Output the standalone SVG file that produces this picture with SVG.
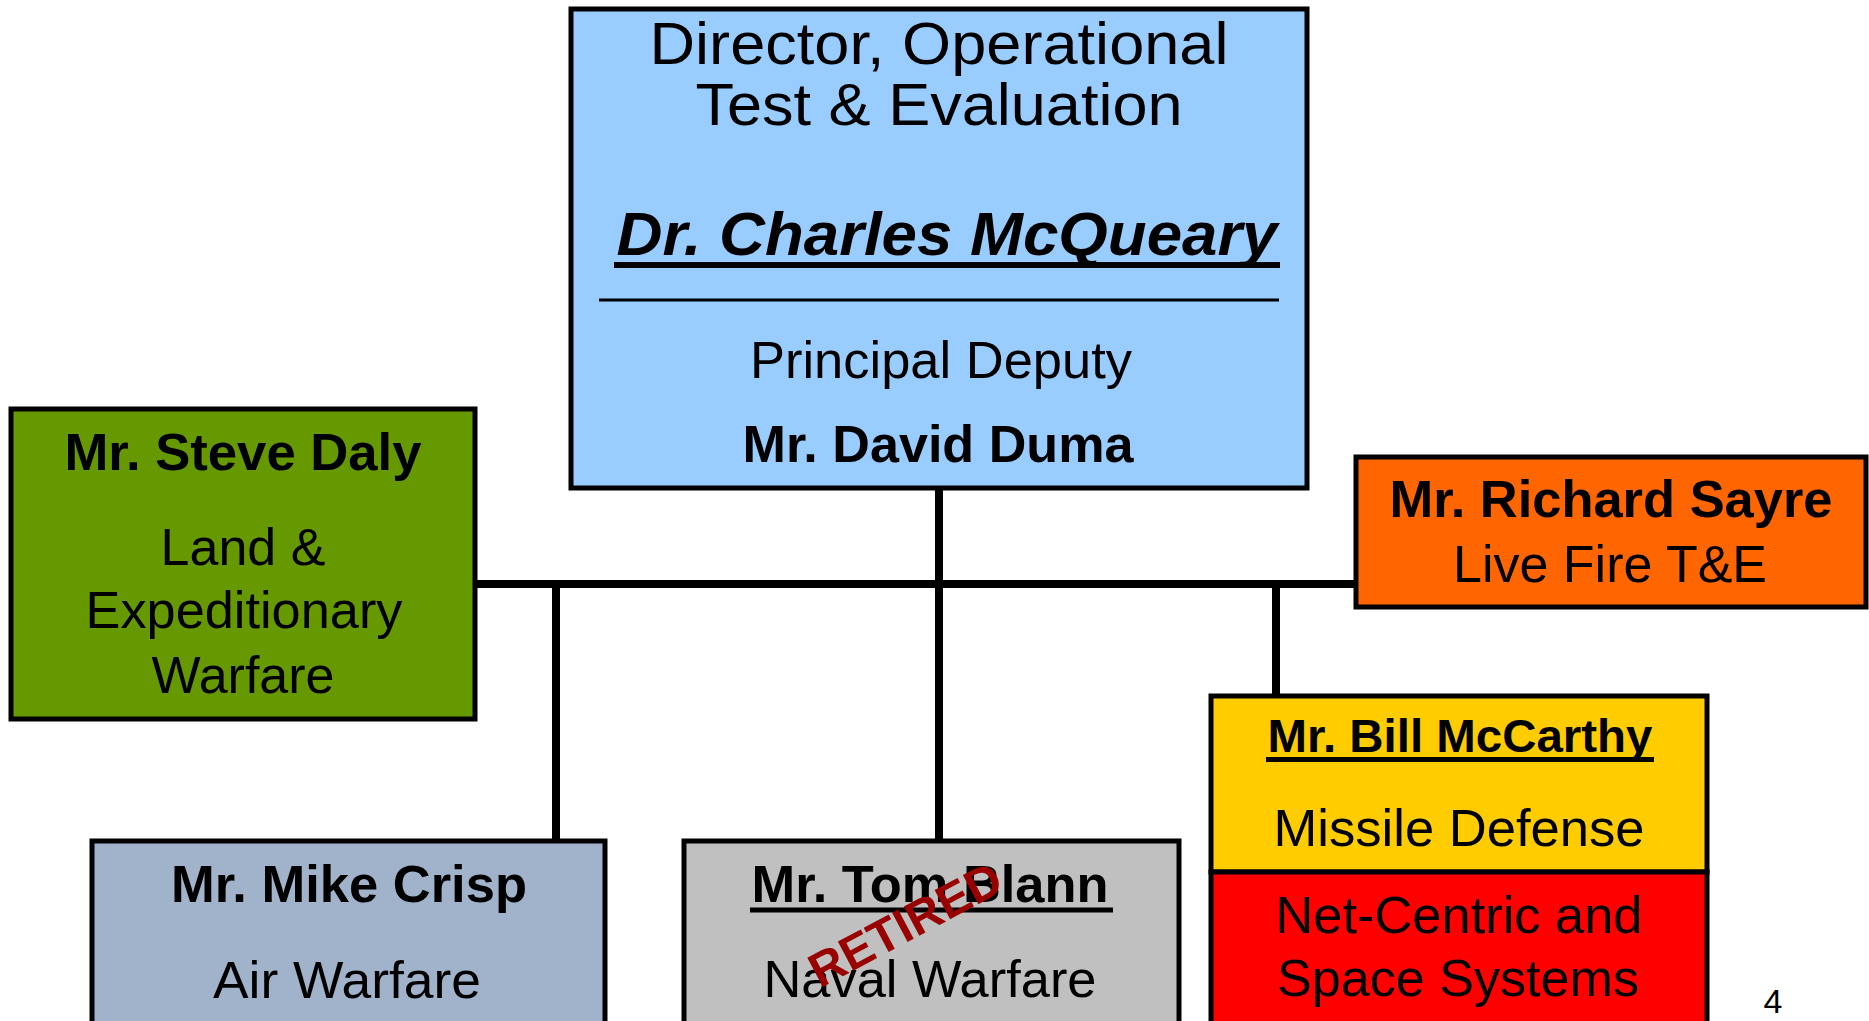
<svg xmlns="http://www.w3.org/2000/svg" width="1869" height="1021" viewBox="0 0 1869 1021">
<style>
text{font-family:"Liberation Sans",Arial,sans-serif;fill:#000;text-anchor:middle}
.b{font-weight:bold}
.box{stroke:#000;stroke-width:5}
.conn{stroke:#000;stroke-width:8;fill:none}
.ul{stroke:#000;stroke-width:5}
</style>
<rect width="1869" height="1021" fill="#fff"/>
<g id="connectors">
<line class="conn" x1="475" y1="584" x2="1356" y2="584"/>
<line class="conn" x1="939" y1="488" x2="939" y2="841"/>
<line class="conn" x1="556" y1="584" x2="556" y2="841"/>
<line class="conn" x1="1276" y1="584" x2="1276" y2="696"/>
</g>
<g id="director">
<rect class="box" x="571" y="9" width="736" height="479" fill="#99CCFF"/>
<text x="939" y="64" font-size="60" textLength="579" lengthAdjust="spacingAndGlyphs">Director, Operational</text>
<text x="939" y="125" font-size="60" textLength="487" lengthAdjust="spacingAndGlyphs">Test &amp; Evaluation</text>
<text class="b" x="947" y="255" font-size="62" font-style="italic" textLength="661" lengthAdjust="spacingAndGlyphs">Dr. Charles McQueary</text>
<line x1="614" y1="265" x2="1280" y2="265" stroke="#000" stroke-width="6"/>
<line x1="599" y1="300" x2="1279" y2="300" stroke="#000" stroke-width="3"/>
<text x="941" y="378" font-size="52" textLength="382" lengthAdjust="spacingAndGlyphs">Principal Deputy</text>
<text class="b" x="938" y="462" font-size="52" textLength="391" lengthAdjust="spacingAndGlyphs">Mr. David Duma</text>
</g>
<g id="daly">
<rect class="box" x="11" y="409" width="464" height="310" fill="#669900"/>
<text class="b" x="243" y="470" font-size="52" textLength="357" lengthAdjust="spacingAndGlyphs">Mr. Steve Daly</text>
<text x="243" y="565" font-size="52">Land &amp;</text>
<text x="244" y="628" font-size="52" textLength="317" lengthAdjust="spacingAndGlyphs">Expeditionary</text>
<text x="243" y="693" font-size="52">Warfare</text>
</g>
<g id="sayre">
<rect class="box" x="1356" y="457" width="510" height="150" fill="#FF6600"/>
<text class="b" x="1611" y="517" font-size="52" textLength="443" lengthAdjust="spacingAndGlyphs">Mr. Richard Sayre</text>
<text x="1610" y="582" font-size="52" textLength="314" lengthAdjust="spacingAndGlyphs">Live Fire T&amp;E</text>
</g>
<g id="mccarthy">
<rect class="box" x="1211" y="696" width="496" height="176" fill="#FFCC00"/>
<rect class="box" x="1211" y="872" width="496" height="165" fill="#FF0000"/>
<text class="b" x="1460" y="752" font-size="47" textLength="385" lengthAdjust="spacingAndGlyphs">Mr. Bill McCarthy</text>
<line class="ul" x1="1266" y1="759.5" x2="1654" y2="759.5"/>
<text x="1459" y="846" font-size="52" textLength="371" lengthAdjust="spacingAndGlyphs">Missile Defense</text>
<text x="1459" y="933" font-size="52" textLength="367" lengthAdjust="spacingAndGlyphs">Net-Centric and</text>
<text x="1458" y="996" font-size="52" textLength="362" lengthAdjust="spacingAndGlyphs">Space Systems</text>
</g>
<g id="crisp">
<rect class="box" x="92" y="841" width="513" height="200" fill="#A1B3CA"/>
<text class="b" x="349" y="902" font-size="52" textLength="356" lengthAdjust="spacingAndGlyphs">Mr. Mike Crisp</text>
<text x="347" y="998" font-size="52" textLength="268" lengthAdjust="spacingAndGlyphs">Air Warfare</text>
</g>
<g id="blann">
<rect class="box" x="684" y="841" width="495" height="200" fill="#C0C0C0"/>
<text class="b" x="930" y="902" font-size="52" textLength="357" lengthAdjust="spacingAndGlyphs">Mr. Tom Blann</text>
<line class="ul" x1="750" y1="910" x2="1113" y2="910"/>
<text x="930" y="997" font-size="52" textLength="333" lengthAdjust="spacingAndGlyphs">Naval Warfare</text>
<text class="b" transform="translate(913,939) rotate(-28)" x="0" y="0" font-size="48" style="fill:#990000">RETIRED</text>
</g>
<text x="1773" y="1013" font-size="34">4</text>
</svg>
